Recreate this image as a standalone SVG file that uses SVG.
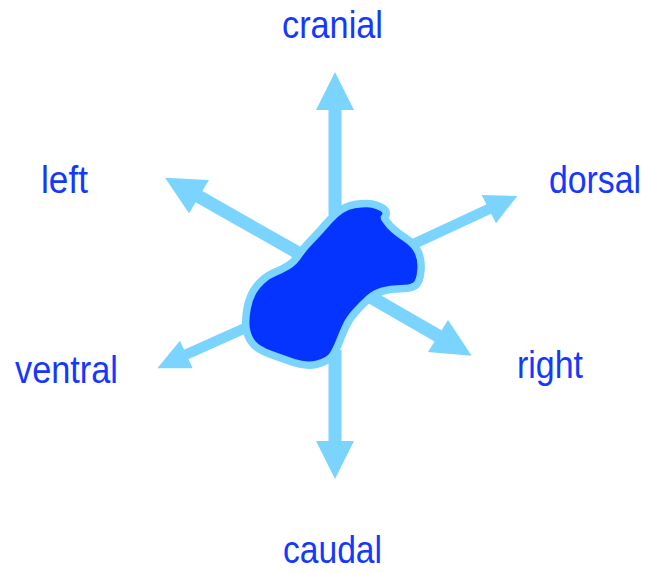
<svg xmlns="http://www.w3.org/2000/svg" width="651" height="573" viewBox="0 0 651 573">
<style>
.lbl{font-family:"Liberation Sans",Arial,sans-serif;font-size:38px;fill:#1438FF;}
.shaft{stroke:#7BD4FE;fill:none;stroke-width:13;}
.thin{stroke-width:10.5;}
.head{fill:#7BD4FE;}
.blob{fill:#0533FF;stroke:#7BD4FE;stroke-width:15;stroke-linejoin:round;paint-order:stroke;}
</style>
<rect width="651" height="573" fill="#fff"/>
<g id="connectors">
<line class="shaft" x1="335" y1="215" x2="335" y2="108"/>
<polygon class="head" points="335,72 316,110 354,110"/>
<line class="shaft" x1="335" y1="350" x2="335" y2="443"/>
<polygon class="head" points="335,479 316,441 354,441"/>
<line class="shaft" x1="197" y1="195.5" x2="300" y2="254"/>
<polygon class="head" points="165,177.7 209,180 189,213.3"/>
<line class="shaft" x1="440" y1="337" x2="355" y2="288"/>
<polygon class="head" points="471.7,355.7 448,320 428,352"/>
<line class="shaft thin" x1="490" y1="208.5" x2="405" y2="248"/>
<polygon class="head" points="517.3,196 481.7,195 496,223.3"/>
<line class="shaft thin" x1="185" y1="355" x2="252" y2="325"/>
<polygon class="head" points="157.3,368.3 180,340.7 192.7,368.3"/>
</g>
<g id="body">
<path class="blob" d="M 331.5,223.25 Q 343,210 355,208.25 Q 367,206.5 372,207.75 Q 377,209 380,210.75 Q 384,212.5 381.5,215.25 Q 379,218 383.25,223 Q 386.5,228 391.75,232.5 Q 397,237 404.25,241.75 Q 411.5,246.5 414.75,253.25 Q 418,260 417.25,270 Q 416.5,280 413.25,282.5 Q 410,285 400,285 Q 390,285 381.5,287.5 Q 373,290 366.5,295.75 Q 360,301.5 353.25,309 Q 346.5,316.5 343.25,323.25 Q 340,330 336.5,339 Q 333,348 329.75,353 Q 326.5,358 316.5,360.5 Q 306.5,363 294.75,359 Q 283,355 271.5,350.75 Q 260,346.5 255.75,341.5 Q 251.5,336.5 250,329 Q 248.5,321.5 250.75,309 Q 253,296.5 259.75,288.25 Q 266.5,280 274.75,276.5 Q 283,273 289.75,269 Q 296.5,265 301.5,257.5 Q 306.5,250 313.25,243.25 Q 320,236.5 331.5,223.25 Z"/>
</g>
<g id="label-cranial"><text class="lbl" x="282" y="38" textLength="101" lengthAdjust="spacingAndGlyphs">cranial</text></g>
<g id="label-left"><text class="lbl" x="41" y="193" textLength="47" lengthAdjust="spacingAndGlyphs">left</text></g>
<g id="label-dorsal"><text class="lbl" x="549" y="193" textLength="92" lengthAdjust="spacingAndGlyphs">dorsal</text></g>
<g id="label-ventral"><text class="lbl" x="15" y="383" textLength="103" lengthAdjust="spacingAndGlyphs">ventral</text></g>
<g id="label-right"><text class="lbl" x="517" y="378" textLength="66" lengthAdjust="spacingAndGlyphs">right</text></g>
<g id="label-caudal"><text class="lbl" x="283" y="563" textLength="99" lengthAdjust="spacingAndGlyphs">caudal</text></g>
</svg>
